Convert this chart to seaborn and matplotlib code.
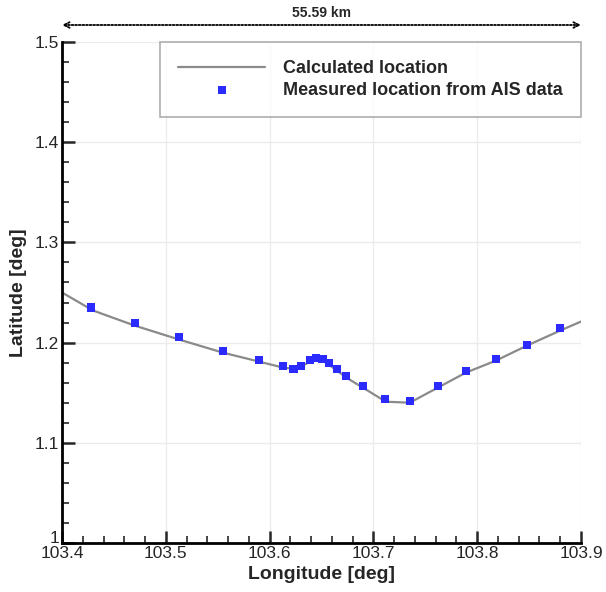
import numpy as np
import pandas as pd
import seaborn as sns
import matplotlib.pyplot as plt
import matplotlib.transforms as mtransforms
from matplotlib.ticker import MultipleLocator

# calculated trajectory (line)
calc_lon = [103.400, 103.430, 103.470, 103.513, 103.555, 103.590, 103.613, 103.623,
            103.630, 103.639, 103.645, 103.651, 103.657, 103.665, 103.674, 103.690,
            103.712, 103.735, 103.762, 103.789, 103.818, 103.848, 103.880, 103.900]
calc_lat = [1.250, 1.232, 1.217, 1.203, 1.190, 1.181, 1.175, 1.174,
            1.176, 1.181, 1.183, 1.182, 1.178, 1.172, 1.165, 1.155,
            1.141, 1.140, 1.155, 1.170, 1.182, 1.197, 1.212, 1.221]

# AIS measurements (squares)
ais_lon = [103.428, 103.470, 103.513, 103.555, 103.590, 103.613, 103.623, 103.630,
           103.639, 103.645, 103.651, 103.657, 103.665, 103.674, 103.690, 103.711,
           103.735, 103.762, 103.789, 103.818, 103.848, 103.880]
ais_lat = [1.235, 1.220, 1.206, 1.192, 1.183, 1.177, 1.174, 1.177,
           1.183, 1.185, 1.184, 1.180, 1.174, 1.167, 1.157, 1.144,
           1.142, 1.157, 1.172, 1.184, 1.198, 1.215]

x_ticks = [103.4, 103.5, 103.6, 103.7, 103.8, 103.9]
x_labels = ["103.4", "103.5", "103.6", "103.7", "103.8", "103.9"]
y_ticks = [1.0, 1.1, 1.2, 1.3, 1.4, 1.5]
y_labels = ["1", "1.1", "1.2", "1.3", "1.4", "1.5"]

df_calc = pd.DataFrame({"lon": calc_lon, "lat": calc_lat})
df_ais = pd.DataFrame({"lon": ais_lon, "lat": ais_lat})

sns.set_style("white")
plt.rcParams['font.family'] = ['Liberation Sans', 'DejaVu Sans']

fig = plt.figure(figsize=(6.06, 5.92), dpi=100)
ax = fig.add_axes([0.1023, 0.0828, 0.8564, 0.8462])

sns.lineplot(data=df_calc, x="lon", y="lat", ax=ax, color="#8a8a8a", linewidth=1.6,
             label="Calculated location", sort=False)
sns.scatterplot(data=df_ais, x="lon", y="lat", ax=ax, color="#2b2bff", marker="s",
                s=34, edgecolor="none", label="Measured location from AIS data", zorder=3)

ax.set_xticks(x_ticks)
ax.set_xticklabels(x_labels)
ax.set_yticks(y_ticks)
ax.set_yticklabels(y_labels)
ax.xaxis.set_minor_locator(MultipleLocator(0.02))
ax.yaxis.set_minor_locator(MultipleLocator(0.02))
ax.set_xlim(103.4, 103.9)
ax.set_ylim(1.0, 1.5)

ax.grid(True, which="major", color="#ebebeb", linewidth=1)
ax.tick_params(which="major", direction="in", length=9, width=1.8, labelsize=12.5,
               left=True, bottom=True, pad=2)
ax.tick_params(which="minor", direction="in", length=5, width=1.2, left=True, bottom=True)

# lift the "1" label a little so it sits above the 103.4 label
lbl = ax.get_yticklabels()[0]
lbl.set_transform(lbl.get_transform() + mtransforms.ScaledTranslation(0, 4 / 72, fig.dpi_scale_trans))

for side in ["top", "right"]:
    ax.spines[side].set_visible(False)
for side in ["left", "bottom"]:
    ax.spines[side].set_linewidth(2)
    ax.spines[side].set_color("black")

ax.set_xlabel("Longitude [deg]", fontsize=14, fontweight="bold", labelpad=4)
ax.set_ylabel("Latitude [deg]", fontsize=14, fontweight="bold", labelpad=6)

leg = ax.legend(loc="upper right", bbox_to_anchor=(1.0, 1.0), borderaxespad=0,
                fancybox=False, edgecolor="#999999", borderpad=1.0, handlelength=4.8,
                handletextpad=1.0, labelspacing=0.25,
                prop={"weight": "bold", "size": 13})
leg.get_frame().set_linewidth(1.2)

ax.annotate("", xy=(103.4, 1.034), xytext=(103.9, 1.034),
            xycoords=("data", "axes fraction"), textcoords=("data", "axes fraction"),
            arrowprops=dict(arrowstyle="<->", linestyle=(0, (1, 1)), color="black",
                            linewidth=1.3, shrinkA=0, shrinkB=0), annotation_clip=False)
ax.text(0.5, 1.057, "55.59 km", transform=ax.transAxes, ha="center", va="center",
        fontsize=10, fontweight="bold")

fig.savefig("out.png", dpi=100)
